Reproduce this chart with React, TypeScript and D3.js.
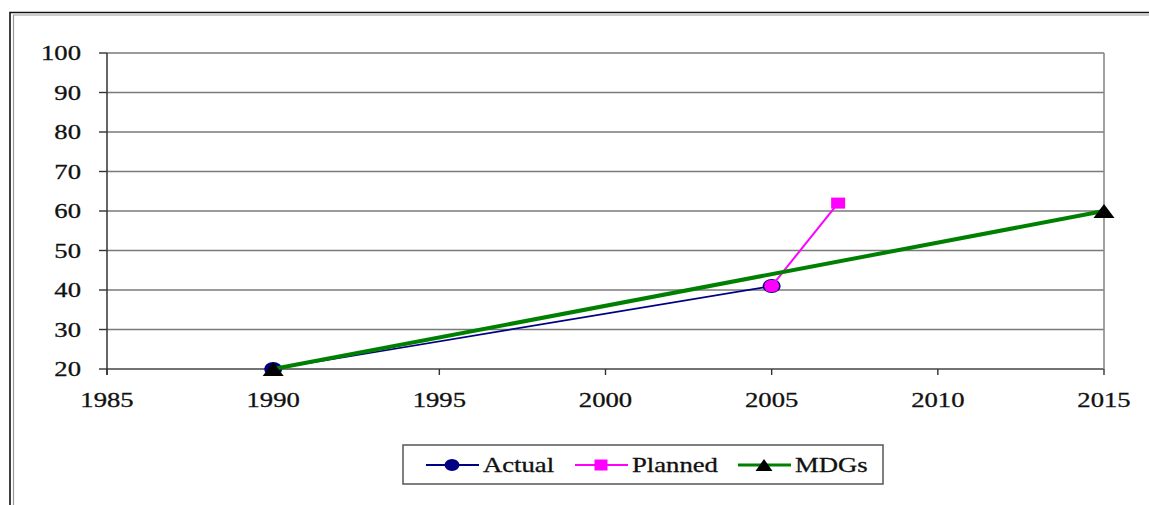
import { useEffect, useRef } from "react";
import * as d3 from "d3";

// values
const actualYears = [1990, 2005];
const actualValues = [20, 41];
const plannedYears = [2005, 2007];
const plannedValues = [41, 62];
const mdgYears = [1990, 2015];
const mdgValues = [20, 60];

const xTicks = [1985, 1990, 1995, 2000, 2005, 2010, 2015];
const yTicks = [20, 30, 40, 50, 60, 70, 80, 90, 100];

const seriesNames = ["Actual", "Planned", "MDGs"];

type Pt = { x: number; y: number };

const zip = (xs: number[], ys: number[]): Pt[] => xs.map((x, i) => ({ x, y: ys[i] }));

// flat triangle marker, w wide and h tall, centred on the point
const triangle = (w: number, h: number) => `M0,${-h / 2}L${w / 2},${h / 2}L${-w / 2},${h / 2}Z`;

export default function App() {
  const ref = useRef<SVGSVGElement | null>(null);

  useEffect(() => {
    if (!ref.current) return;
    const svg = d3.select(ref.current);
    svg.selectAll("*").remove();

    const width = 1149;
    const height = 505;
    const font = "'Liberation Serif', 'Times New Roman', serif";
    const sx = 1.27; // the reference text is stretched sideways

    const x = d3.scaleLinear().domain([1985, 2015]).range([107, 1104]);
    const y = d3.scaleLinear().domain([20, 100]).range([369, 53]);

    svg.append("rect").attr("width", width).attr("height", height).attr("fill", "#fff");

    // outer frame (double line)
    svg.append("path")
      .attr("d", `M10,${height} V12.5 H${width}`)
      .attr("fill", "none").attr("stroke", "#111").attr("stroke-width", 1.6);
    svg.append("path")
      .attr("d", `M13.5,${height} V15 H${width}`)
      .attr("fill", "none").attr("stroke", "#999").attr("stroke-width", 1.2);

    // gridlines
    svg.append("g").selectAll("line").data(yTicks).join("line")
      .attr("x1", x(1985)).attr("x2", x(2015))
      .attr("y1", (d) => y(d)).attr("y2", (d) => y(d))
      .attr("stroke", (d) => (d === 20 ? "#444" : "#7a7a7a"))
      .attr("stroke-width", 1.4);
    svg.append("line")
      .attr("x1", x(2015)).attr("x2", x(2015)).attr("y1", y(100)).attr("y2", y(20))
      .attr("stroke", "#8a8a8a").attr("stroke-width", 1.6);
    svg.append("line")
      .attr("x1", x(1985)).attr("x2", x(1985)).attr("y1", y(100)).attr("y2", y(20) + 6)
      .attr("stroke", "#333").attr("stroke-width", 1.5);

    // tick marks
    svg.append("g").selectAll("line").data(yTicks).join("line")
      .attr("x1", x(1985) - 8).attr("x2", x(1985))
      .attr("y1", (d) => y(d)).attr("y2", (d) => y(d))
      .attr("stroke", "#333").attr("stroke-width", 1.4);
    svg.append("g").selectAll("line").data(xTicks).join("line")
      .attr("x1", (d) => x(d)).attr("x2", (d) => x(d))
      .attr("y1", y(20)).attr("y2", y(20) + 6)
      .attr("stroke", "#333").attr("stroke-width", 1.4);

    const label = (sel: d3.Selection<any, any, any, any>) =>
      sel.attr("transform", `scale(${sx},1)`)
        .attr("font-family", font).attr("font-size", 21).attr("fill", "#111")
        .attr("stroke", "#111").attr("stroke-width", 0.3);

    // tick labels
    svg.append("g").selectAll("g").data(yTicks).join("g")
      .attr("transform", (d) => `translate(81,${y(d) + 7})`)
      .append("text")
      .call(label)
      .attr("text-anchor", "end")
      .text((d) => d);
    svg.append("g").selectAll("g").data(xTicks).join("g")
      .attr("transform", (d) => `translate(${x(d)},407)`)
      .append("text")
      .call(label)
      .attr("text-anchor", "middle")
      .text((d) => d);

    const line = d3.line<Pt>().x((d) => x(d.x)).y((d) => y(d.y));

    const actual = zip(actualYears, actualValues);
    const planned = zip(plannedYears, plannedValues);
    const mdg = zip(mdgYears, mdgValues);

    // Actual
    svg.append("path").attr("d", line(actual) || "")
      .attr("fill", "none").attr("stroke", "#000080").attr("stroke-width", 1.6);
    svg.append("g").selectAll("ellipse").data(actual).join("ellipse")
      .attr("cx", (d) => x(d.x)).attr("cy", (d) => y(d.y))
      .attr("rx", 9).attr("ry", 7)
      .attr("fill", "#000080");

    // Planned
    svg.append("path").attr("d", line(planned) || "")
      .attr("fill", "none").attr("stroke", "#ff00ff").attr("stroke-width", 2);
    svg.append("g").selectAll("rect").data(planned).join("rect")
      .attr("x", (d, i) => x(d.x) - (i === 0 ? 7.5 : 7)).attr("y", (d, i) => y(d.y) - (i === 0 ? 6 : 5.5))
      .attr("width", (d, i) => (i === 0 ? 15 : 14)).attr("height", (d, i) => (i === 0 ? 12 : 11))
      .attr("rx", (d, i) => (i === 0 ? 6 : 0))
      .attr("fill", "#ff00ff");

    // MDGs
    svg.append("path").attr("d", line(mdg) || "")
      .attr("fill", "none").attr("stroke", "#008000").attr("stroke-width", 4);
    svg.append("g").selectAll("path").data(mdg).join("path")
      .attr("transform", (d) => `translate(${x(d.x)},${y(d.y)})`)
      .attr("d", triangle(21, 14))
      .attr("fill", "#000");

    // legend
    const lg = svg.append("g");
    lg.append("rect")
      .attr("x", 403).attr("y", 445).attr("width", 480).attr("height", 39)
      .attr("fill", "#fff").attr("stroke", "#555").attr("stroke-width", 1.5);
    const items = [
      { name: seriesNames[0], color: "#000080", x0: 426, tx: 483 },
      { name: seriesNames[1], color: "#ff00ff", x0: 575, tx: 632 },
      { name: seriesNames[2], color: "#008000", x0: 738, tx: 795 },
    ];
    items.forEach((it, i) => {
      const cy = 465;
      lg.append("line")
        .attr("x1", it.x0).attr("x2", it.x0 + 53).attr("y1", cy).attr("y2", cy)
        .attr("stroke", it.color).attr("stroke-width", i === 2 ? 3 : 1.8);
      const mx = it.x0 + 26;
      if (i === 0) {
        lg.append("ellipse").attr("cx", mx).attr("cy", cy).attr("rx", 7.5).attr("ry", 6).attr("fill", it.color);
      } else if (i === 1) {
        lg.append("rect").attr("x", mx - 6.5).attr("y", cy - 5.5).attr("width", 13).attr("height", 11).attr("fill", it.color);
      } else {
        lg.append("path").attr("transform", `translate(${mx},${cy})`)
          .attr("d", triangle(17, 12)).attr("fill", "#000");
      }
      lg.append("g").attr("transform", `translate(${it.tx},472)`)
        .append("text")
        .call(label)
        .text(it.name);
    });
  }, []);

  return (
    <svg
      ref={ref}
      width={1149}
      height={505}
      style={{ position: "absolute", left: 0, top: 0, display: "block" }}
    />
  );
}
